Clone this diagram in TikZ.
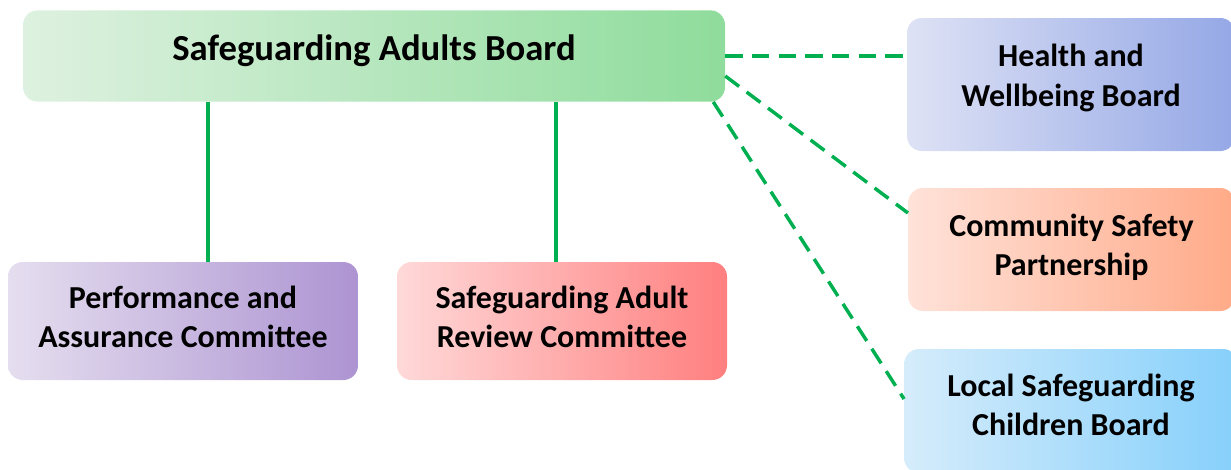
\documentclass[tikz,border=0pt]{standalone}
\usepackage{fontspec}
\setmainfont{Carlito}
\usepackage{tikz}

\definecolor{linkgreen}{HTML}{00B050}
\newcommand\lifted[2]{\raisebox{#1}[\height][\depth]{\begin{tabular}{@{}c@{}}#2\end{tabular}}}
\tikzset{
  board/.style={rounded corners=11pt, inner sep=0pt,
    font=\fontsize{24}{29.5}\selectfont\bfseries},
  solidlink/.style={draw=linkgreen, line width=2.6pt},
  dashlink/.style={draw=linkgreen, line width=2.6pt, dash pattern=on 13pt off 7pt}
}

\begin{document}
\begin{tikzpicture}[x=0.75pt,y=-0.75pt]
\useasboundingbox (0,0) rectangle (1231,469);
\node[board, left color={rgb,255:red,222;green,241;blue,224}, right color={rgb,255:red,143;green,220;blue,156},
  minimum width=526.5pt, minimum height=68.5pt, font=\fontsize{27.5}{33}\selectfont\bfseries] (sab) at (374,56) {\lifted{3pt}{Safeguarding Adults Board}};
\node[board, left color={rgb,255:red,222;green,226;blue,245}, right color={rgb,255:red,149;green,168;blue,230},
  minimum width=246pt, minimum height=99.75pt] (hwb) at (1071,84.5) {\lifted{4.5pt}{Health and\\Wellbeing Board}};
\node[board, left color={rgb,255:red,255;green,226;blue,217}, right color={rgb,255:red,255;green,170;blue,136},
  minimum width=245pt, minimum height=92.25pt] (csp) at (1071.5,249.5) {\lifted{0.8pt}{Community Safety\\Partnership}};
\node[board, left color={rgb,255:red,213;green,236;blue,251}, right color={rgb,255:red,134;green,208;blue,251},
  minimum width=250pt, minimum height=93pt] (lscb) at (1071,411) {\lifted{2.2pt}{Local Safeguarding\\Children Board}};
\node[board, left color={rgb,255:red,229;green,222;blue,239}, right color={rgb,255:red,173;green,148;blue,210},
  minimum width=262.5pt, minimum height=88.5pt] (pac) at (183,321) {\lifted{0.6pt}{Performance and\\Assurance Committee}};
\node[board, left color={rgb,255:red,255;green,217;blue,217}, right color={rgb,255:red,255;green,127;blue,127},
  minimum width=247.5pt, minimum height=88.5pt] (sarc) at (562,321) {\lifted{0.6pt}{Safeguarding Adult\\Review Committee}};

% solid links down to the committees
\draw[solidlink] ([xshift=18.75pt]pac.north) -- ([xshift=18.75pt]pac.north |- sab.south);
\draw[solidlink] ([xshift=-4.5pt]sarc.north) -- ([xshift=-4.5pt]sarc.north |- sab.south);
% dashed links to partner boards
\draw[dashlink] (sab.east) -- (sab.east -| hwb.west);
\draw[dashlink] ([yshift=-15pt]sab.east) -- ([yshift=27.4pt]csp.west);
\draw[dashlink] ([xshift=-9pt]sab.south east) -- ([yshift=9pt]lscb.west);
\end{tikzpicture}
\end{document}
